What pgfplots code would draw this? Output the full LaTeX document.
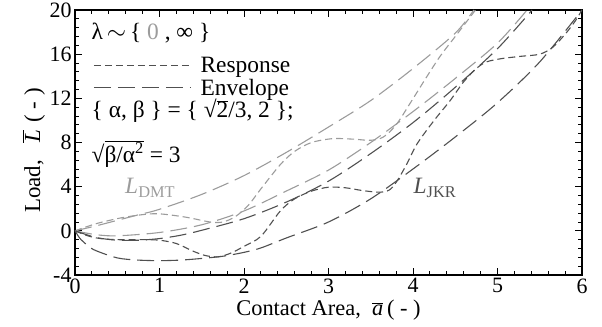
\documentclass[border=0pt]{standalone}
\usepackage{fontspec}
\setmainfont{Liberation Serif}
\usepackage{pgfplots}
\pgfplotsset{compat=1.18}
\definecolor{lgray}{HTML}{9C9C9C}
\definecolor{dgray}{HTML}{505050}
\tikzset{resp/.style={line width=1.1bp, dash pattern=on 7bp off 4bp},
         env/.style={line width=1.1bp, dash pattern=on 17bp off 7bp}}
\begin{document}
\begin{tikzpicture}[font=\fontsize{23.5}{27}\selectfont]
\begin{axis}[
  at={(0,0)}, anchor=south west,
  scale only axis, width=507bp, height=265bp,
  xmin=0, xmax=6, ymin=-4, ymax=20,
  xtick={0,1,2,3,4,5,6}, ytick={-4,0,4,8,12,16,20},
  minor x tick num=4, minor y tick num=4,
  tick align=inside, major tick length=7bp, minor tick length=4bp,
  axis line style={line width=1.4bp},
  every tick/.style={line width=0.9bp, black},
  /pgf/number format/assume math mode=true,
  tick label style={font=\fontsize{22}{26}\selectfont},
  xlabel={Contact Area, \ $\overline{\hbox{\itshape a}}$\,( - )},
  ylabel={Load, \ \ $\overline{\hbox{\itshape L}}$\,\,( - )},
  xlabel style={at={(axis description cs:0.5,0)}, anchor=base, yshift=-40bp,
    font=\fontsize{22.5}{26}\selectfont},
  ylabel style={at={(axis description cs:-0.069,0.47)}, anchor=base,
    font=\fontsize{23}{26}\selectfont},
  legend style={at={(axis description cs:0.036,0.83)}, anchor=north west,
    draw=none, fill=none, inner sep=0pt, row sep=1bp,
    font=\fontsize{23.5}{27}\selectfont},
  legend cell align=left,
  legend image code/.code={\draw[#1] (0bp,0bp) -- (97bp,0bp);},
]
\addlegendimage{dgray, resp}
\addlegendentry{\hspace{7bp}Response}
\addlegendimage{dgray, env}
\addlegendentry{\hspace{7bp}Envelope}

% light gray (lambda = 0)
\addplot[lgray, env, smooth, forget plot] coordinates {
(0,0)(0.25,0.45)(0.5,0.95)(0.75,1.45)(1,1.95)(1.5,3.3)(2,5.0)(2.5,7.1)(3,9.4)(3.5,11.8)(4,14.7)(4.5,17.9)(4.72,20)};
\addplot[lgray, env, smooth, forget plot] coordinates {
(0,0)(0.25,-0.35)(0.5,-0.45)(1,-0.15)(1.5,0.55)(2,1.8)(2.5,3.6)(3,5.5)(3.5,8.0)(4,10.8)(4.5,13.8)(5,17.0)(5.35,20)};
\addplot[lgray, resp, smooth, forget plot] coordinates {
(0,0)(0.15,0.4)(0.3,0.75)(0.6,1.25)(0.95,1.55)(1.3,1.25)(1.6,0.8)(1.75,0.8)(1.9,1.3)(2.05,2.3)(2.2,3.8)(2.43,6.0)(2.6,7.2)(2.8,8.0)(3.05,8.35)(3.3,8.3)(3.5,8.2)(3.65,8.5)(3.8,9.6)(3.97,11.6)(4.15,13.8)(4.32,15.8)(4.5,17.6)(4.74,20)};

% dark gray (lambda = infinity)
\addplot[dgray, env, smooth, forget plot] coordinates {
(0,0)(0.25,-0.6)(0.5,-0.85)(0.75,-0.85)(1,-0.7)(1.25,-0.4)(1.5,0.05)(2,1.1)(2.5,2.6)(3,4.5)(3.5,7.0)(4,9.8)(4.5,13.0)(5,16.5)(5.41,20)};
\addplot[dgray, env, smooth, forget plot] coordinates {
(0,0)(0.05,-0.6)(0.1,-1.0)(0.22,-1.7)(0.5,-2.45)(0.75,-2.65)(1,-2.7)(1.25,-2.65)(1.5,-2.5)(1.75,-2.3)(2,-1.95)(2.2,-1.55)(2.5,-0.65)(3,0.8)(3.5,2.9)(4,5.6)(4.5,8.5)(5,11.6)(5.5,15.3)(6,20)};
\addplot[dgray, resp, smooth, forget plot] coordinates {
(0,0)(0.15,-0.45)(0.3,-0.7)(0.5,-0.8)(0.8,-0.8)(1,-0.85)(1.2,-1.15)(1.4,-1.85)(1.55,-2.25)(1.7,-2.35)(1.85,-2.0)(2.0,-1.4)(2.2,-0.5)(2.43,1.8)(2.6,2.9)(2.8,3.6)(3,3.95)(3.2,3.9)(3.4,3.65)(3.6,3.5)(3.72,3.7)(3.81,4.5)(3.93,6.1)(4.05,7.9)(4.25,10.0)(4.44,11.8)(4.6,13.5)(4.75,14.7)(4.87,15.3)(5.05,15.6)(5.27,15.8)(5.5,16.0)(5.65,16.6)(5.8,17.8)(5.92,19.0)(6,20)};

\node[anchor=west] at (axis description cs:0.026,0.913)
  {λ\,$\sim$\,\{ \textcolor{lgray}{0} , ∞ \}};
\node[anchor=west] at (axis description cs:0.026,0.619)
  {\{ α, β \} = \{ √$\overline{\hbox{2}}$/3, 2 \};};
\node[anchor=west] at (axis description cs:0.026,0.457)
  {√$\overline{\hbox{β/α\textsuperscript{2}}}$ = 3};
\node[lgray] at (axis cs:0.89,3.9) {\itshape L\textsubscript{\upshape DMT}};
\node[dgray] at (axis cs:4.26,3.9) {\itshape L\textsubscript{\upshape JKR}};
\end{axis}
\pgfresetboundingbox
\path[use as bounding box] (-75bp,-52bp) rectangle (527bp,275bp);
\end{tikzpicture}
\end{document}
